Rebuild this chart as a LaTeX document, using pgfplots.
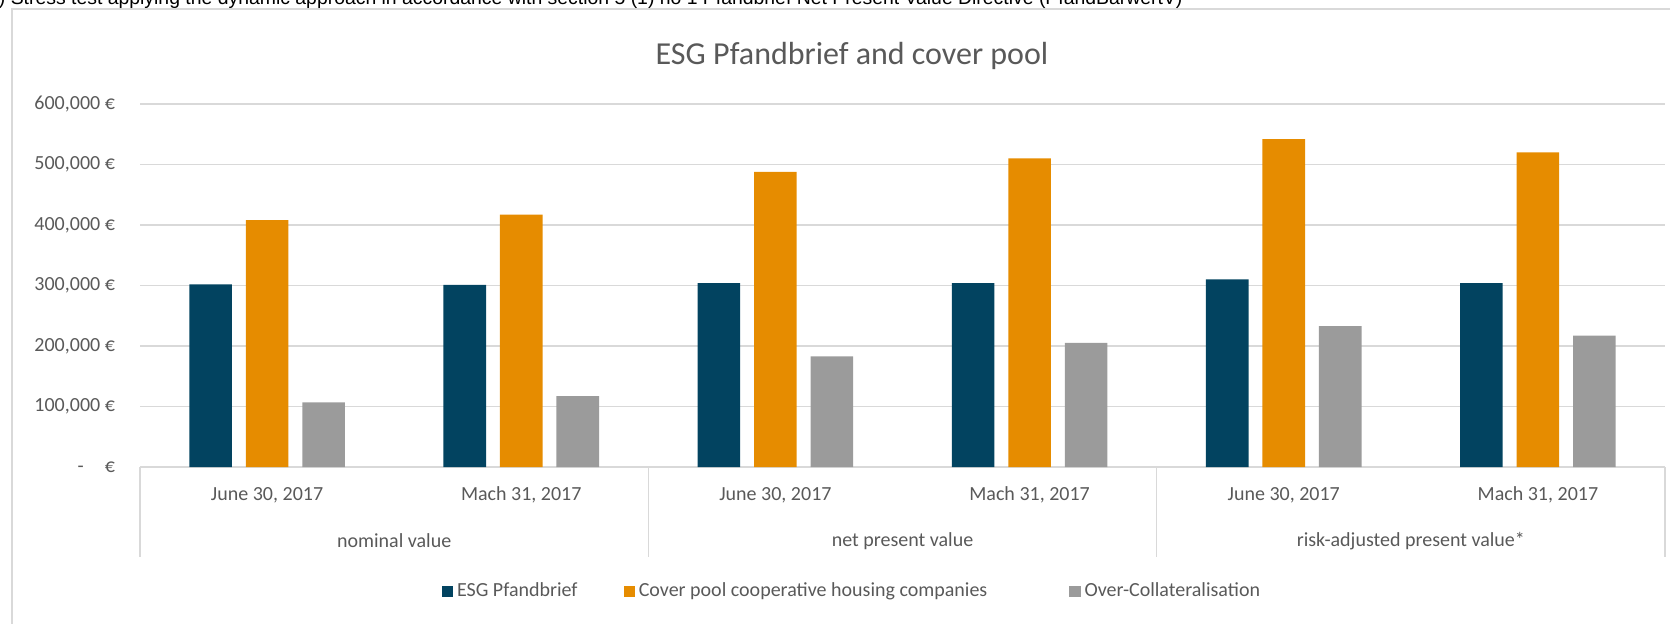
\documentclass[border=0pt]{standalone}
\usepackage{pgfplots}
\pgfplotsset{compat=1.18}
\usepackage{fontspec}
\setmainfont{Carlito}
\newfontfamily\arialfont{Liberation Sans}
\definecolor{esgblue}{RGB}{2,67,96}
\definecolor{esgorange}{RGB}{230,140,0}
\definecolor{esggray}{RGB}{155,155,155}
\definecolor{txtgray}{RGB}{89,89,89}
\definecolor{gridgray}{RGB}{217,217,217}
\begin{document}
\begin{tikzpicture}
\useasboundingbox (0,0) rectangle (835pt,311.5pt);
% frame
\draw[gridgray, line width=1pt] (5.85pt,-5pt) -- (5.85pt,307pt) -- (840pt,307pt);
% cut-off footnote at top
\node[anchor=base west, inner sep=0pt, font=\arialfont\fontsize{9.7}{11}\selectfont] at (-4.5pt,309.3pt)
 {*) Stress test applying the dynamic approach in accordance with section 5 (1) no 1 Pfandbrief Net Present Value Directive (PfandBarwertV)};
% title
\node[font=\fontsize{16}{19}\selectfont, text=txtgray] at (426pt,283.5pt) {ESG Pfandbrief and cover pool};
\begin{axis}[
  at={(70pt,78pt)}, anchor=south west,
  scale only axis, width=762.5pt, height=181.5pt,
  clip=false,
  ybar, bar width=21.3pt,
  xmin=-0.5, xmax=5.5, ymin=0, ymax=600000,
  scaled y ticks=false,
  xtick={0,1,2,3,4,5},
  xticklabels={{June 30, 2017}, {Mach 31, 2017}, {June 30, 2017}, {Mach 31, 2017}, {June 30, 2017}, {Mach 31, 2017}},
  ytick={0,100000,200000,300000,400000,500000,600000},
  yticklabels={{-\hspace{1.05em}€}, {100,000 €}, {200,000 €}, {300,000 €}, {400,000 €}, {500,000 €}, {600,000 €}},
  major tick length=0pt,
  axis line style={draw=none},
  ymajorgrids, grid style={gridgray, line width=0.75pt},
  tick label style={font=\fontsize{10}{12}\selectfont, text=txtgray},
  yticklabel style={anchor=east, xshift=-9pt},
  xticklabel style={anchor=center, yshift=-14pt},
  legend columns=3,
  legend style={at={(0.4675,-0.342)}, anchor=center, draw=none, fill=none,
    font=\fontsize{10}{12}\selectfont, text=txtgray,
    /tikz/column 2/.style={column sep=21pt},
    /tikz/column 4/.style={column sep=39pt}},
  legend image code/.code={\fill[#1] (0pt,-2.9pt) rectangle (5.6pt,2.7pt);},
]
\addplot[fill=esgblue, draw=none, bar shift=-28.25pt] coordinates {(0,302000) (1,301000) (2,304000) (3,304000) (4,310000) (5,304000)};
\addplot[fill=esgorange, draw=none, bar shift=0pt] coordinates {(0,408000) (1,417000) (2,488000) (3,510000) (4,542000) (5,520000)};
\addplot[fill=esggray, draw=none, bar shift=28.25pt] coordinates {(0,107000) (1,117000) (2,183000) (3,205000) (4,233000) (5,217000)};
\legend{ESG Pfandbrief, Cover pool cooperative housing companies, Over-Collateralisation}
% category separators
\draw[gridgray, line width=0.75pt] (axis cs:-0.5,0) -- ([yshift=-45pt]axis cs:-0.5,0);
\draw[gridgray, line width=0.75pt] (axis cs:1.5,0) -- ([yshift=-45pt]axis cs:1.5,0);
\draw[gridgray, line width=0.75pt] (axis cs:3.5,0) -- ([yshift=-45pt]axis cs:3.5,0);
\draw[gridgray, line width=0.75pt] (axis cs:5.5,0) -- ([yshift=-45pt]axis cs:5.5,0);
\node[font=\fontsize{10}{12}\selectfont, text=txtgray] at ([yshift=-37pt]axis cs:0.5,0) {nominal value};
\node[font=\fontsize{10}{12}\selectfont, text=txtgray] at ([yshift=-37pt]axis cs:2.5,0) {net present value};
\node[font=\fontsize{10}{12}\selectfont, text=txtgray] at ([yshift=-37pt]axis cs:4.5,0) {risk-adjusted present value*};
\end{axis}
\end{tikzpicture}
\end{document}
